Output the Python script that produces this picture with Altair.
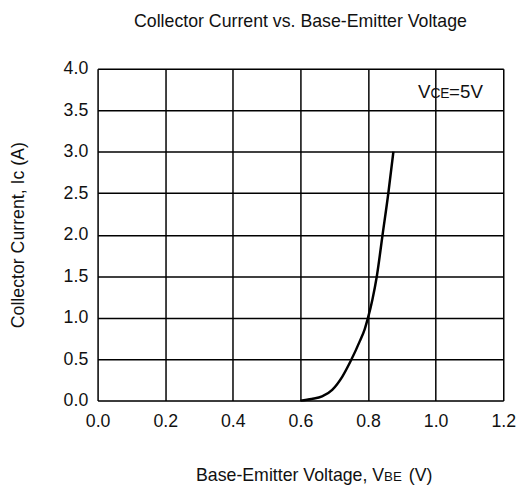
import altair as alt
import pandas as pd

# Curve
vbe = [0.60, 0.633, 0.664, 0.694, 0.724, 0.749, 0.776, 0.79, 0.80, 0.813, 0.826, 0.843, 0.860, 0.875]
ic = [0.0, 0.02, 0.05, 0.13, 0.29, 0.48, 0.72, 0.86, 1.00, 1.22, 1.50, 2.00, 2.50, 3.00]
x_ticks = [0.0, 0.2, 0.4, 0.6, 0.8, 1.0, 1.2]
y_ticks = [0.0, 0.5, 1.0, 1.5, 2.0, 2.5, 3.0, 3.5, 4.0]

df = pd.DataFrame({"vbe": vbe, "ic": ic})

FONT = "Liberation Sans"
FS = 18
W, H = 412, 337

line = alt.Chart(df).mark_line(color="black", strokeWidth=2.5, interpolate="monotone").encode(
    x=alt.X("vbe:Q", scale=alt.Scale(domain=[0, 1.2], nice=False),
            axis=alt.Axis(values=x_ticks, format=".1f", title=None, grid=True,
                          gridColor="black", gridWidth=1.5, gridOpacity=1,
                          ticks=False, domain=False, labelFont=FONT, labelFontSize=FS,
                          labelColor="#111", labelPadding=12, labelFlush=False)),
    y=alt.Y("ic:Q", scale=alt.Scale(domain=[0, 4.0], nice=False),
            axis=alt.Axis(values=y_ticks, format=".1f", title="Collector Current, Ic (A)",
                          grid=True, gridColor="black", gridWidth=1.5, gridOpacity=1,
                          ticks=False, domain=False, labelFont=FONT, labelFontSize=FS,
                          labelColor="#111", labelPadding=10, labelFlush=False,
                          titleFont=FONT, titleFontSize=FS, titleFontWeight="normal",
                          titleColor="#111", titlePadding=36)),
)

def txt(s, x, y, size, align):
    return alt.Chart(df.head(1)).mark_text(
        text=s, font=FONT, fontSize=size, align=align, baseline="alphabetic", color="#111"
    ).encode(x=alt.value(x), y=alt.value(y))

# annotation V_CE=5V
ann = txt("V", 338, 30, 19, "right") + txt("CE", 338, 30, 14, "left") + txt("=5V", 357, 30, 19, "left")
# x-axis title with subscript
xt = (txt("Base-Emitter Voltage, V", 291, 419, FS, "right")
      + txt("BE", 291, 419, 13.5, "left")
      + txt("(V)", 316, 419, FS, "left"))

chart = alt.layer(line, ann, xt).properties(
    width=W, height=H,
    title=alt.TitleParams("Collector Current vs. Base-Emitter Voltage", font=FONT, fontSize=FS,
                          fontWeight="normal", color="#111", anchor="middle", offset=29),
    autosize=alt.AutoSizeParams(type="none"),
    padding={"left": 91, "top": 58, "right": 17, "bottom": 85},
).configure_view(stroke="black", strokeWidth=1.5).configure(background="white")

chart.save("out.html", embed_options={"renderer": "svg", "actions": False})
